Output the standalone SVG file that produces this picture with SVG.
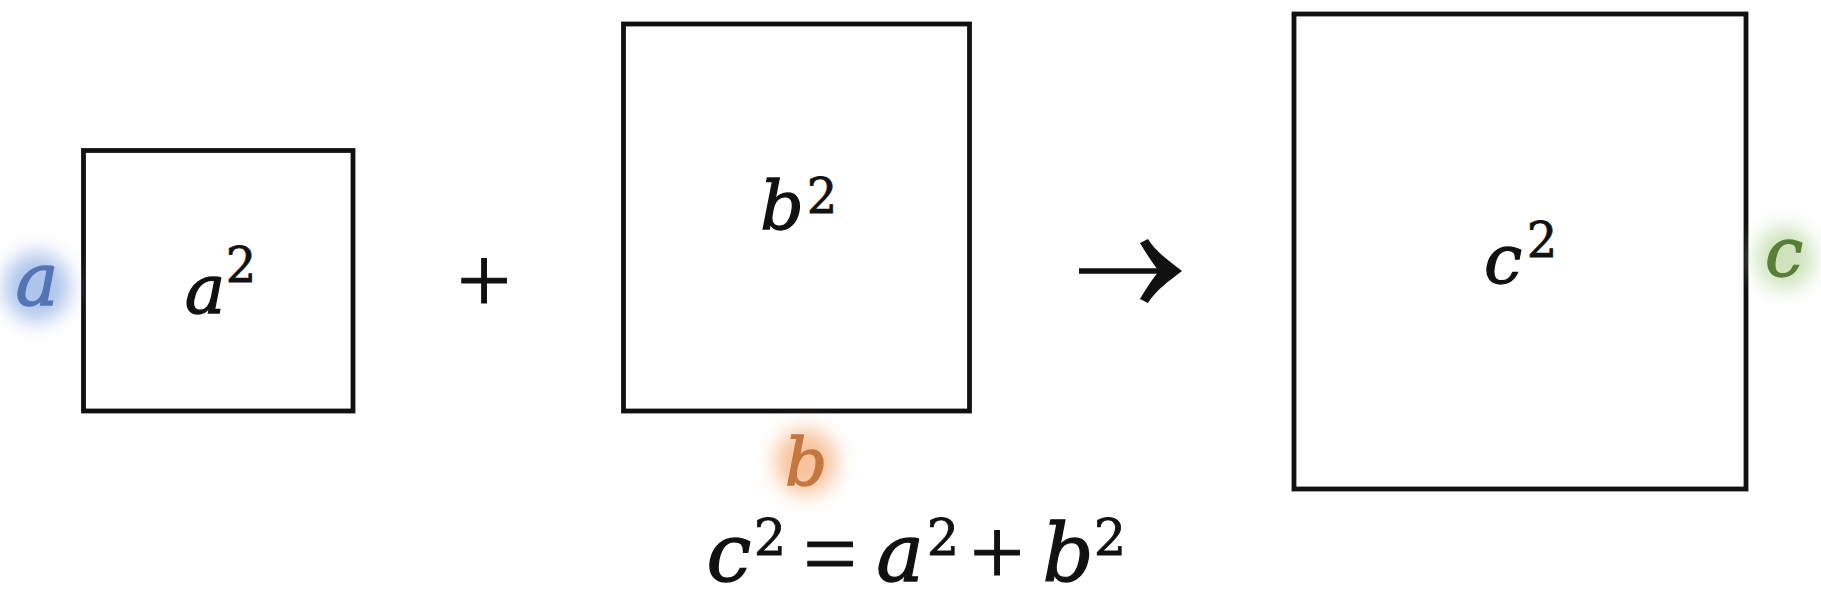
<svg xmlns="http://www.w3.org/2000/svg" width="1821" height="592" viewBox="0 0 1821 592">
<style>
.box{fill:#fff;stroke:#111;stroke-width:4.8}
.v{font-family:"DejaVu Serif","Liberation Serif",serif;font-style:italic;text-anchor:middle;fill:#111;stroke:#111;stroke-width:1.3}
.d{font-family:"DejaVu Serif","Liberation Serif",serif;text-anchor:middle;fill:#111;stroke:#111;stroke-width:0.8}
.op{font-family:"Liberation Serif","DejaVu Serif",serif;text-anchor:middle;fill:#111;stroke:#111;stroke-width:1}
.lb{font-size:68px}
.sp{font-size:48px}
.eq{font-size:80px}
.esp{font-size:51px}
.blue{fill:#5474b4;stroke:#5474b4}
.orange{fill:#c4773f;stroke:#c4773f}
.green{fill:#587e37;stroke:#587e37}
</style>
<defs>
<filter id="glow" x="-1" y="-1" width="3" height="3"><feGaussianBlur stdDeviation="10"/></filter>
</defs>
<rect width="1821" height="592" fill="#fff"/>
<g id="square-a">
<rect class="box" x="83.5" y="150.5" width="269.5" height="260.5"/>
<text class="v lb" x="205" y="313">a</text>
<text class="d sp" x="241" y="282">2</text>
</g>
<g id="label-a">
<ellipse cx="37" cy="287" rx="33" ry="35" fill="#aec4ec" filter="url(#glow)"/>
<text class="v blue" x="37" y="305" font-size="72">a</text>
</g>
<g id="plus">
<text class="op" x="484" y="312" font-size="96">+</text>
</g>
<g id="square-b">
<rect class="box" x="623.5" y="24" width="346" height="387"/>
<text class="v lb" x="782" y="229">b</text>
<text class="d sp" x="822" y="213">2</text>
</g>
<g id="label-b">
<ellipse cx="806" cy="462" rx="31" ry="33" fill="#f8c39c" filter="url(#glow)"/>
<text class="v orange" x="806" y="485" font-size="66">b</text>
</g>
<g id="square-c">
<rect class="box" x="1294" y="14" width="452" height="475"/>
<text class="v lb" x="1503" y="283">c</text>
<text class="d sp" x="1542" y="257">2</text>
</g>
<g id="label-c">
<ellipse cx="1785" cy="258" rx="29" ry="31" fill="#cde2ba" filter="url(#glow)"/>
<text class="v lb green" x="1784" y="276">c</text>
</g>
<g id="connectors">
<line x1="1079" y1="271" x2="1166" y2="271" stroke="#111" stroke-width="5.5"/>
<path d="M1182,271 C1169,261 1156,252 1148,239 L1140,243 C1147,255 1154,265 1159,271 C1154,277 1147,287 1140,299 L1148,303 C1156,290 1169,281 1182,271 Z" fill="#111"/>
</g>
<g id="equation">
<text class="v eq" x="729" y="581">c</text>
<text class="d esp" x="770" y="555">2</text>
<text class="op" x="830" y="586" font-size="96">=</text>
<text class="v eq" x="900" y="581">a</text>
<text class="d esp" x="943" y="555">2</text>
<text class="op" x="997" y="584" font-size="96">+</text>
<text class="v eq" x="1068" y="581">b</text>
<text class="d esp" x="1110" y="555">2</text>
</g>
</svg>
